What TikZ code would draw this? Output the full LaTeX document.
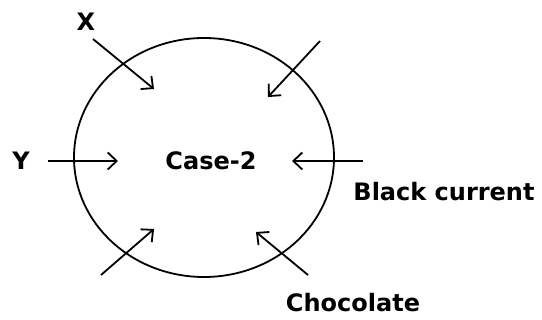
\documentclass[tikz,border=0pt]{standalone}
\usepackage{fontspec}
\setmainfont{DejaVu Sans}
\usetikzlibrary{arrows.meta,shapes.geometric}
\begin{document}
\begin{tikzpicture}[x=1pt,y=-1pt,
  lbl/.style={font=\fontsize{24}{28}\selectfont\bfseries, inner sep=0pt},
  arr/.style={line width=1.8pt, -{Straight Barb[length=9pt,width=17pt,line width=1.8pt]}},
  ring/.style={draw, line width=1.8pt, ellipse, minimum width=260pt, minimum height=239pt, inner sep=0pt}]
\useasboundingbox (0,0) rectangle (542,320);
\node[ring] (ell) at (204,157.5) {};
\node[lbl] (case) at (211,161) {Case-2};
\node[lbl] (x) at (86,22) {X};
\node[lbl] (y) at (21,161) {Y};
\node[lbl] (bc) at (444,192) {Black current};
\node[lbl] (choc) at (353,303) {Chocolate};
\coordinate (xs) at (93,39);   \coordinate (xe) at (154,89);
\coordinate (ts) at (320,41);  \coordinate (te) at (268,97);
\coordinate (ys) at (48,161);  \coordinate (ye) at (118,161);
\coordinate (rs) at (363,161); \coordinate (re) at (292,161);
\coordinate (bls) at (101,275); \coordinate (ble) at (154,229);
\coordinate (brs) at (308,275); \coordinate (bre) at (256,232);
\draw[arr] (xs) -- (xe);
\draw[arr] (ts) -- (te);
\draw[arr] (ys) -- (ye);
\draw[arr] (rs) -- (re);
\draw[arr] (bls) -- (ble);
\draw[arr] (brs) -- (bre);
\end{tikzpicture}
\end{document}
